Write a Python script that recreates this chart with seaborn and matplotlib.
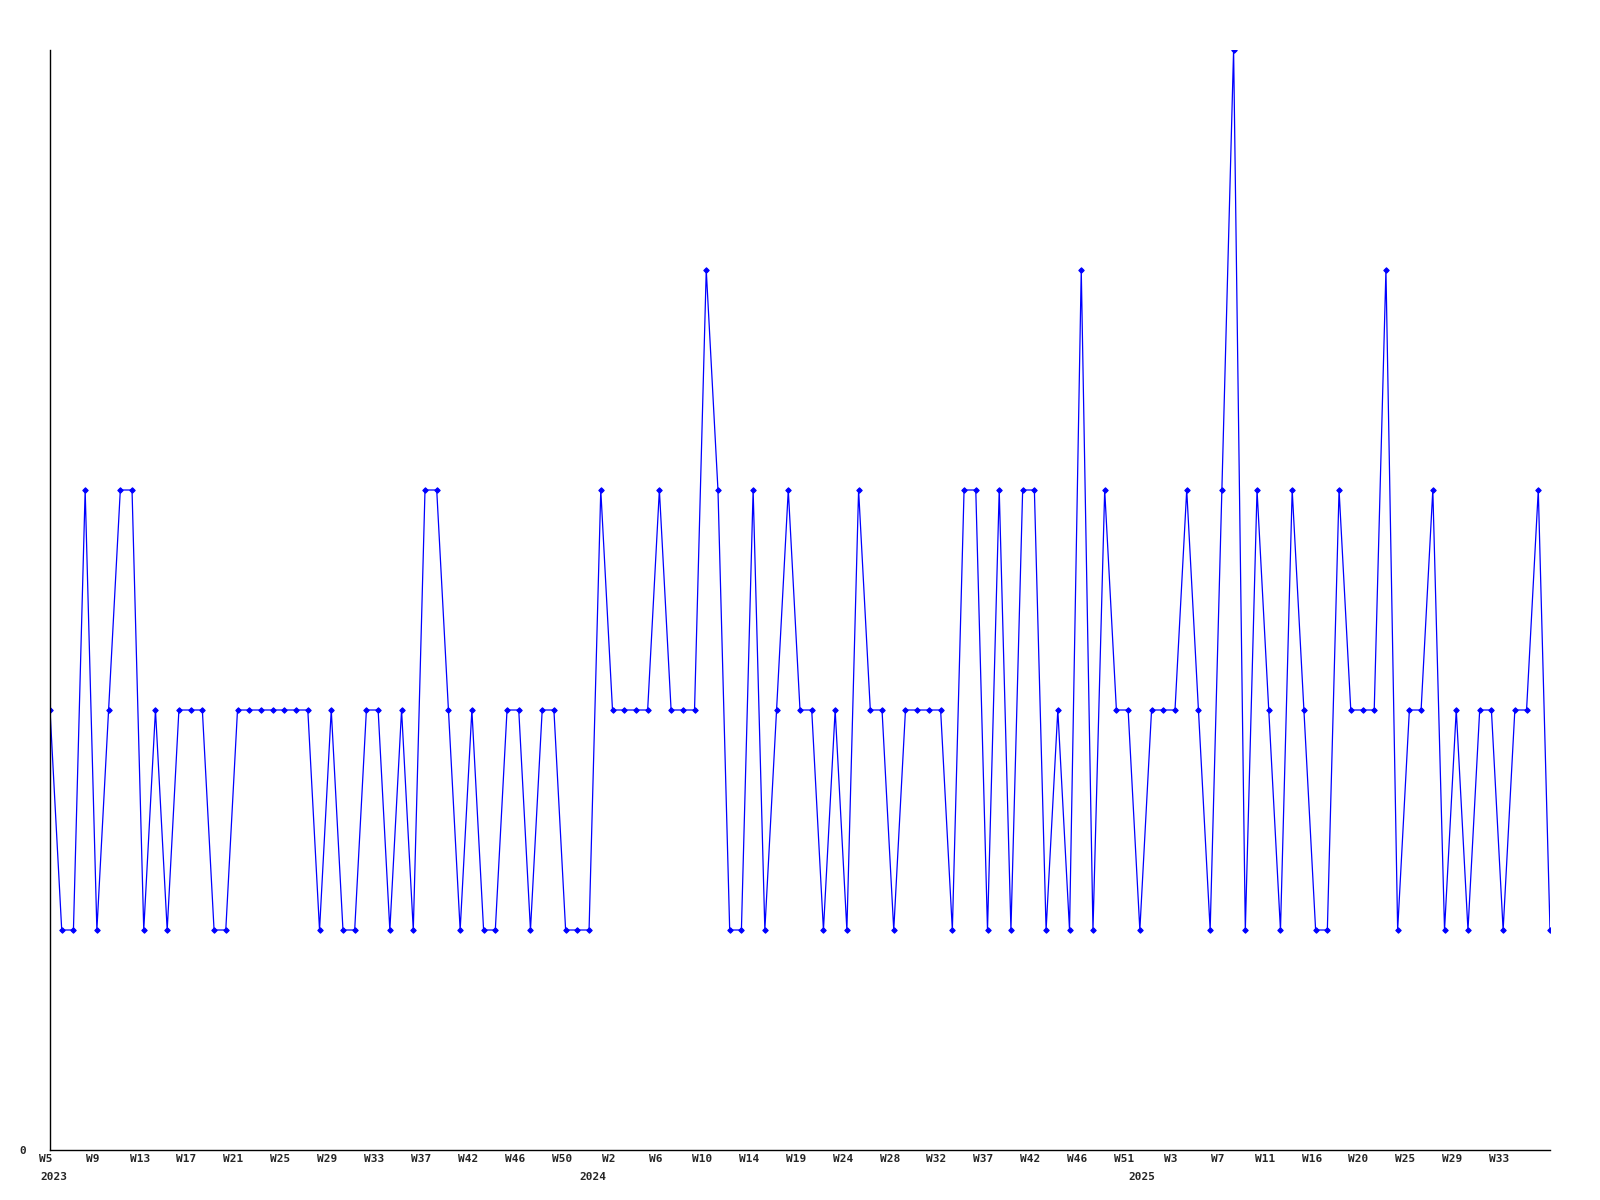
import numpy as np
import pandas as pd
import matplotlib
matplotlib.use('Agg')
import matplotlib.pyplot as plt
from matplotlib.transforms import ScaledTranslation
import seaborn as sns

# weekly counts, one per point
counts = [
    2, 1, 1, 3, 1, 2, 3, 3, 1, 2,
    1, 2, 2, 2, 1, 1, 2, 2, 2, 2,
    2, 2, 2, 1, 2, 1, 1, 2, 2, 1,
    2, 1, 3, 3, 2, 1, 2, 1, 1, 2,
    2, 1, 2, 2, 1, 1, 1, 3, 2, 2,
    2, 2, 3, 2, 2, 2, 4, 3, 1, 1,
    3, 1, 2, 3, 2, 2, 1, 2, 1, 3,
    2, 2, 1, 2, 2, 2, 2, 1, 3, 3,
    1, 3, 1, 3, 3, 1, 2, 1, 4, 1,
    3, 2, 2, 1, 2, 2, 2, 3, 2, 1,
    3, 5, 1, 3, 2, 1, 3, 2, 1, 1,
    3, 2, 2, 2, 4, 1, 2, 2, 3, 1,
    2, 1, 2, 2, 1, 2, 2, 3, 1,
]

# week labels, one every 4 points
week_labels = ['W5', 'W9', 'W13', 'W17', 'W21', 'W25', 'W29', 'W33', 'W37', 'W42',
               'W46', 'W50', 'W2', 'W6', 'W10', 'W14', 'W19', 'W24', 'W28', 'W32',
               'W37', 'W42', 'W46', 'W51', 'W3', 'W7', 'W11', 'W16', 'W20', 'W25',
               'W29', 'W33']
years = ['2023', '2024', '2025']

df = pd.DataFrame({'idx': np.arange(len(counts)), 'count': counts})

sns.set_style('white')
plt.rcParams['font.family'] = ['DejaVu Sans Mono', 'DejaVu Sans']

fig = plt.figure(figsize=(16, 12), dpi=100)
ax = fig.add_axes([50 / 1600, 50 / 1200, 1500 / 1600, 1100 / 1200])

sns.lineplot(data=df, x='idx', y='count', ax=ax, color='#0000ff',
             linewidth=0.9, marker='D', markersize=2.8,
             markeredgecolor='#0000ff', estimator=None)

ax.set_xticks(np.arange(0, 4 * len(week_labels), 4))
ax.set_xticklabels(week_labels)
ax.set_yticks([0])
ax.set_yticklabels(['0'])
ax.set_xlim(0, len(counts) - 1)
ax.set_ylim(0, 5)
ax.tick_params(axis='x', length=0, pad=3, labelsize=8)
ax.tick_params(axis='y', length=0, pad=17, labelsize=8)

# labels sit a touch left of their points, like the original
shift = ScaledTranslation(-4 / 100, 0, fig.dpi_scale_trans)
for lab in ax.get_xticklabels():
    lab.set_fontweight('bold')
    lab.set_transform(lab.get_transform() + shift)
for lab in ax.get_yticklabels():
    lab.set_fontweight('bold')

year_x = [0.3, 46.3, 93.2]
for yr, xpos in zip(years, year_x):
    ax.text(xpos, -0.025, yr, transform=ax.get_xaxis_transform(),
            ha='center', va='center', fontsize=8, fontweight='bold')

ax.set_xlabel('')
ax.set_ylabel('')
for side in ['top', 'right']:
    ax.spines[side].set_visible(False)
for side in ['left', 'bottom']:
    ax.spines[side].set_color('black')
    ax.spines[side].set_linewidth(1)

fig.savefig('out.png', dpi=100)
